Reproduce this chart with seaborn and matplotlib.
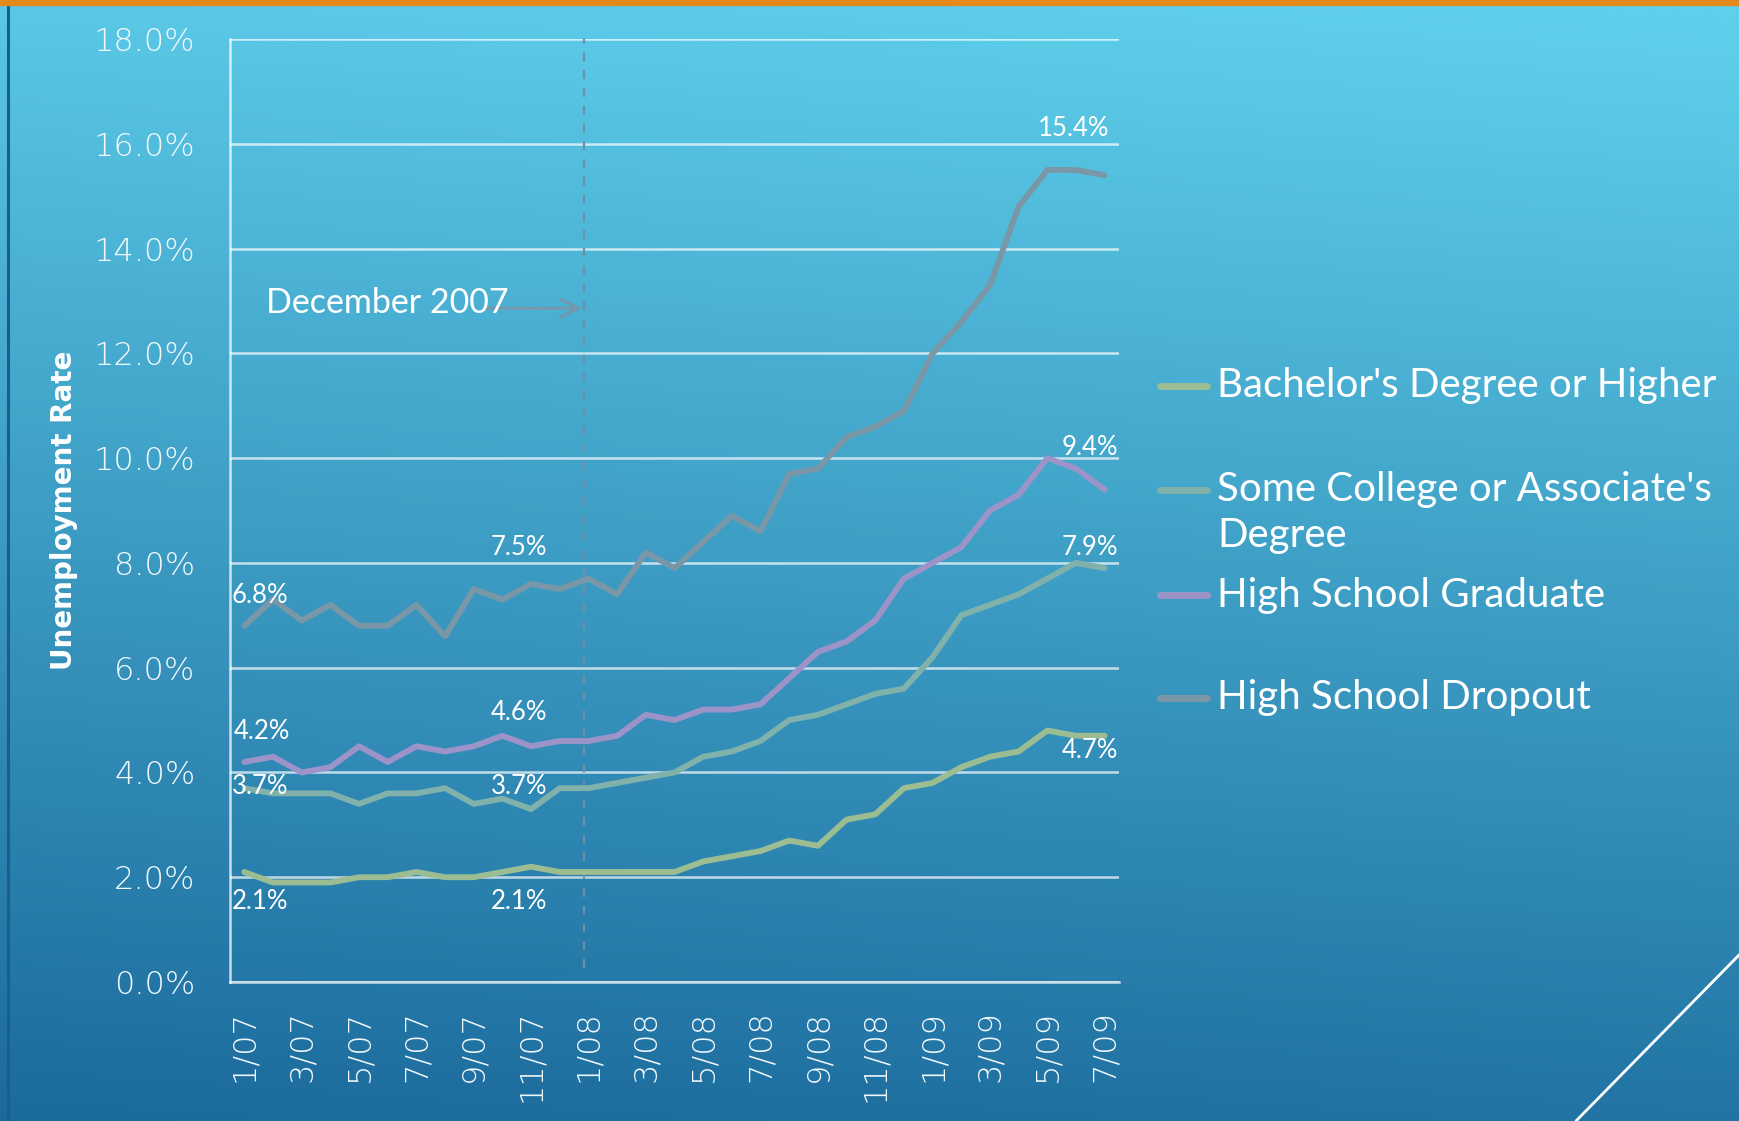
import numpy as np
import pandas as pd
import matplotlib
matplotlib.use("Agg")
import matplotlib.pyplot as plt
import seaborn as sns
from matplotlib.lines import Line2D
from matplotlib.patches import Rectangle

# ---------------- data ----------------
months = ["1/07", "2/07", "3/07", "4/07", "5/07", "6/07", "7/07", "8/07", "9/07", "10/07",
          "11/07", "12/07", "1/08", "2/08", "3/08", "4/08", "5/08", "6/08", "7/08", "8/08",
          "9/08", "10/08", "11/08", "12/08", "1/09", "2/09", "3/09", "4/09", "5/09", "6/09", "7/09"]

bachelor = [2.1, 1.9, 1.9, 1.9, 2.0, 2.0, 2.1, 2.0, 2.0, 2.1,
            2.2, 2.1, 2.1, 2.1, 2.1, 2.1, 2.3, 2.4, 2.5, 2.7,
            2.6, 3.1, 3.2, 3.7, 3.8, 4.1, 4.3, 4.4, 4.8, 4.7, 4.7]
some_college = [3.7, 3.6, 3.6, 3.6, 3.4, 3.6, 3.6, 3.7, 3.4, 3.5,
                3.3, 3.7, 3.7, 3.8, 3.9, 4.0, 4.3, 4.4, 4.6, 5.0,
                5.1, 5.3, 5.5, 5.6, 6.2, 7.0, 7.2, 7.4, 7.7, 8.0, 7.9]
hs_grad = [4.2, 4.3, 4.0, 4.1, 4.5, 4.2, 4.5, 4.4, 4.5, 4.7,
           4.5, 4.6, 4.6, 4.7, 5.1, 5.0, 5.2, 5.2, 5.3, 5.8,
           6.3, 6.5, 6.9, 7.7, 8.0, 8.3, 9.0, 9.3, 10.0, 9.8, 9.4]
dropout = [6.8, 7.3, 6.9, 7.2, 6.8, 6.8, 7.2, 6.6, 7.5, 7.3,
           7.6, 7.5, 7.7, 7.4, 8.2, 7.9, 8.4, 8.9, 8.6, 9.7,
           9.8, 10.4, 10.6, 10.9, 12.0, 12.6, 13.3, 14.8, 15.5, 15.5, 15.4]

series_names = ["Bachelor's Degree or Higher",
                "Some College or Associate's\nDegree",
                "High School Graduate",
                "High School Dropout"]
series_values = [bachelor, some_college, hs_grad, dropout]
colors = ["#9cbd92", "#80b2ab", "#9c94c9", "#7a97a8"]

labelled_points = [0, 11, 30]          # months whose values are written on the chart
recession_start = "12/07"
annotation_text = "December 2007"
y_label = "Unemployment Rate"

# ---------------- styling ----------------
sns.set_theme(style="white")
plt.rcParams['font.family'] = ['DejaVu Sans']
LABEL_FONT = ['Lato', 'DejaVu Sans']

W, H = 1740, 1121
fig = plt.figure(figsize=(W / 100, H / 100), dpi=100)

# gradient background
bg = fig.add_axes([0, 0, 1, 1], zorder=-10)
yy, xx = np.mgrid[0:1:300j, 0:1:300j]
t = np.clip(0.92 * yy + 0.10 * (1 - xx) - 0.02, 0, 1)
c_top = np.array([0x5f, 0xd0, 0xec]) / 255
c_bot = np.array([0x1b, 0x6a, 0x9c]) / 255
bg.imshow(c_top + (c_bot - c_top) * t[..., None], aspect='auto',
          extent=[0, 1, 0, 1], origin='upper', interpolation='bilinear')
bg.axis('off')

# decorations
fig.add_artist(Rectangle((0, 1 - 5 / H), 1, 5 / H, transform=fig.transFigure,
                         color='#e48a1a', zorder=5))
fig.add_artist(Line2D([8 / W, 8 / W], [0, 1 - 5 / H], color='#1b5d8c', lw=2.2))
fig.add_artist(Line2D([1576 / W, 1.0], [0, 1 - 954 / H], color='white', lw=2))

# main axes
L, R, T, B = 230, 1119, 39, 982
ax = fig.add_axes([L / W, 1 - B / H, (R - L) / W, (B - T) / H])
ax.patch.set_alpha(0)

n = len(months)
df = pd.DataFrame({
    'idx': np.tile(np.arange(n), len(series_names)),
    'rate': np.concatenate(series_values),
    'series': np.repeat(series_names, n),
})
sns.lineplot(data=df, x='idx', y='rate', hue='series', hue_order=series_names,
             palette=dict(zip(series_names, colors)), linewidth=4.2,
             legend=False, ax=ax, sort=False, zorder=3)
for ln in ax.lines:
    ln.set_solid_capstyle('round')
    ln.set_solid_joinstyle('round')

ax.set_xlim(-0.5, n - 0.5)
ax.set_ylim(0, 18)
yt = np.arange(0, 19, 2)
ax.set_yticks(yt)
ax.set_yticklabels([f"{v:.1f}%" for v in yt])
ax.set_xticks(range(0, n, 2))
ax.set_xticklabels(months[::2], rotation=90)
ax.tick_params(axis='both', length=0, colors='#f2f9fc', labelsize=23)
ax.tick_params(axis='y', pad=25)
ax.tick_params(axis='x', pad=20)
for lab in ax.get_xticklabels() + ax.get_yticklabels():
    lab.set_fontweight('light')
ax.set_xlabel("")
ax.set_ylabel("")
ax.grid(axis='y', color='white', alpha=0.7, lw=1.8)
ax.grid(axis='x', visible=False)
ax.set_axisbelow(True)
for s in ['top', 'right']:
    ax.spines[s].set_visible(False)
for s in ['left', 'bottom']:
    ax.spines[s].set_color('white')
    ax.spines[s].set_alpha(0.75)
    ax.spines[s].set_linewidth(1.8)

# recession marker
rec_x = months.index(recession_start) + 0.85
ax.axvline(rec_x, ymin=0.015, ymax=1, color='#6f8fa6', lw=1.6, ls=(0, (4, 4)), zorder=2)
ax.annotate("", xy=(rec_x, 12.86), xytext=(8.3, 12.86),
            arrowprops=dict(arrowstyle='->', color='#7796aa', lw=2, mutation_scale=32))
ax.text(0.76, 12.96, annotation_text, ha='left', va='center', fontsize=24.5,
        color='white', family=LABEL_FONT, zorder=4)

# value labels (offsets relative to the labelled point)
label_offsets = {
    0: [(-0.45, -0.57, 'left'), (-0.45, 0.04, 'left'), (-0.36, 0.59, 'left'), (-0.45, 0.57, 'left')],
    11: [(-1.41, -0.57, 'center'), (-1.41, 0.04, 'center'), (-1.41, 0.55, 'center'), (-1.41, 0.80, 'center')],
    30: [(-0.5, -0.29, 'center'), (-0.5, 0.40, 'center'), (-0.5, 0.81, 'center'), (-1.1, 0.90, 'center')],
}
for i in labelled_points:
    for k, vals in enumerate(series_values):
        dx, dy, ha = label_offsets[i][k]
        ax.text(i + dx, vals[i] + dy, f"{vals[i]:.1f}%", ha=ha, va='center',
                fontsize=18.5, color='white', family=LABEL_FONT, zorder=4)

# y label
fig.text(64 / W, 1 - 510 / H, y_label, rotation=90, ha='center', va='center',
         fontsize=20, fontweight='bold', color='white',
         family=['Liberation Sans Narrow', 'DejaVu Sans'])

# legend (manual, fixed slots)
leg_y = [386, 490, 595, 698]
for name, col, y in zip(series_names, colors, leg_y):
    fig.add_artist(Line2D([1160 / W, 1207 / W], [1 - y / H] * 2, color=col, lw=5,
                          solid_capstyle='round'))
    nl = name.count("\n")
    fig.text(1217 / W, 1 - (y + nl * 22.75) / H, name, ha='left', va='center',
             fontsize=29, color='white', family=LABEL_FONT, linespacing=1.31)

fig.savefig("out.png", dpi=100)
